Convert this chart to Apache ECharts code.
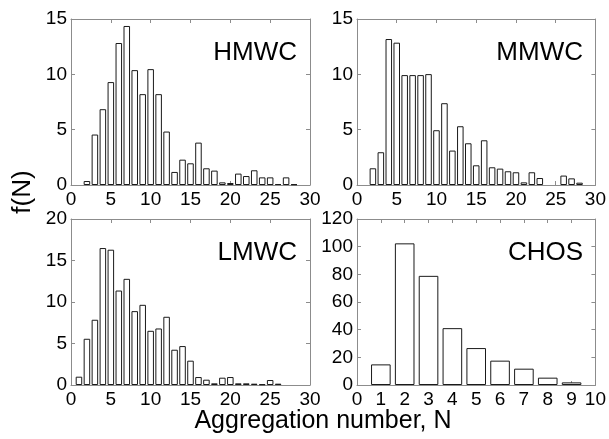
<!DOCTYPE html>
<html>
<head>
<meta charset="utf-8">
<style>
  html, body { margin: 0; padding: 0; background: #fff; }
  #chart { width: 609px; height: 439px; }
</style>
<script src="https://cdn.jsdelivr.net/npm/echarts@6/dist/echarts.min.js"></script>
</head>
<body>
<div id="chart"></div>
<script>
// Aggregation-number distributions f(N) for four systems
const hmwcN = [2, 3, 4, 5, 6, 7, 8, 9, 10, 11, 12, 13, 14, 15, 16, 17, 18, 19, 20, 21, 22, 23, 24, 25, 26, 27, 28];
const hmwcF = [0.36, 4.56, 6.85, 9.3, 12.83, 14.37, 10.38, 8.21, 10.47, 8.21, 4.83, 1.18, 2.29, 1.96, 3.83, 1.51, 1.3, 0.24, 0.18, 1.03, 0.81, 1.33, 0.69, 0.69, 0.09, 0.69, 0.06];

const mmwcN = [2, 3, 4, 5, 6, 7, 8, 9, 10, 11, 12, 13, 14, 15, 16, 17, 18, 19, 20, 21, 22, 23, 26, 27, 28];
const mmwcF = [1.51, 2.96, 13.19, 12.86, 9.93, 9.93, 9.93, 10.02, 4.95, 7.39, 3.11, 5.31, 3.77, 1.78, 4.04, 1.6, 1.48, 1.24, 1.15, 0.24, 1.15, 0.63, 0.85, 0.6, 0.21];

const lmwcN = [1, 2, 3, 4, 5, 6, 7, 8, 9, 10, 11, 12, 13, 14, 15, 16, 17, 18, 19, 20, 21, 22, 23, 24, 25, 26];
const lmwcF = [1.0, 5.57, 7.86, 16.5, 16.3, 11.38, 12.79, 8.9, 9.66, 6.53, 6.81, 8.22, 4.25, 4.69, 2.93, 0.96, 0.64, 0.2, 0.88, 0.96, 0.2, 0.2, 0.16, 0.08, 0.6, 0.16];

const chosN = [1, 2, 3, 4, 5, 6, 7, 8, 9];
const chosF = [14.9, 102.4, 78.9, 41.1, 26.7, 17.6, 11.8, 5.3, 1.9];

// Axis ranges per panel
const panelNames = ['HMWC', 'MMWC', 'LMWC', 'CHOS'];
const xMaxes = [30, 30, 30, 10];
const xSteps = [5, 5, 5, 1];
const yMaxes = [15, 15, 20, 120];
const ySteps = [5, 5, 5, 20];
const panelData = [[hmwcN, hmwcF], [mmwcN, mmwcF], [lmwcN, lmwcF], [chosN, chosF]];

const FONT = '"Liberation Sans", Arial, Helvetica, sans-serif';
const frameColor = '#8c8c8c';
const grids = [
  { left: 71, top: 19, width: 239, height: 166 },
  { left: 357, top: 19, width: 239, height: 166 },
  { left: 71, top: 219, width: 239, height: 166 },
  { left: 357, top: 219, width: 239, height: 166 }
];

const xAxes = [], yAxes = [], series = [], graphics = [];

grids.forEach((g, i) => {
  const tick = { show: true, inside: true, length: 4, lineStyle: { color: frameColor, width: 1 } };
  const line = { show: true, onZero: false, lineStyle: { color: frameColor, width: 1 } };
  // bottom axis with labels
  xAxes.push({
    type: 'value', gridIndex: i, position: 'bottom', min: 0, max: xMaxes[i], interval: xSteps[i],
    axisLine: line, axisTick: tick, splitLine: { show: false },
    axisLabel: { color: '#000', fontFamily: FONT, fontSize: 19, margin: 5 }
  });
  // mirrored top axis closes the box
  xAxes.push({
    type: 'value', gridIndex: i, position: 'top', min: 0, max: xMaxes[i], interval: xSteps[i],
    axisLine: line, axisTick: tick, splitLine: { show: false }, axisLabel: { show: false }
  });
  yAxes.push({
    type: 'value', gridIndex: i, position: 'left', min: 0, max: yMaxes[i], interval: ySteps[i],
    axisLine: line, axisTick: tick, splitLine: { show: false },
    axisLabel: { color: '#000', fontFamily: FONT, fontSize: 19, margin: 4 }
  });
  yAxes.push({
    type: 'value', gridIndex: i, position: 'right', min: 0, max: yMaxes[i], interval: ySteps[i],
    axisLine: line, axisTick: tick, splitLine: { show: false }, axisLabel: { show: false }
  });

  const [ns, fs] = panelData[i];
  series.push({
    type: 'bar', name: panelNames[i],
    xAxisIndex: i * 2, yAxisIndex: i * 2,
    data: ns.map((n, k) => [n, fs[k]]),
    barWidth: (g.width / xMaxes[i]) * 0.82,
    itemStyle: { color: '#ffffff', borderColor: '#1a1a1a', borderWidth: 1 },
    z: 1
  });

  graphics.push({
    type: 'text',
    right: 609 - (g.left + g.width) + 13,
    top: g.top + 21,
    style: { text: panelNames[i], font: '26px ' + FONT, fill: '#000' }
  });
});

graphics.push({
  type: 'text', x: 323, y: 421,
  style: { text: 'Aggregation number, N', font: '25px ' + FONT, fill: '#000', align: 'center', verticalAlign: 'middle' }
});
graphics.push({
  type: 'text', x: 23, y: 192, rotation: Math.PI / 2,
  style: { text: 'f(N)', font: '26px ' + FONT, fill: '#000', align: 'center', verticalAlign: 'middle' }
});

const chart = echarts.init(document.getElementById('chart'), null, { renderer: 'canvas' });
chart.setOption({
  animation: false,
  backgroundColor: '#ffffff',
  grid: grids.map(g => Object.assign({ containLabel: false }, g)),
  xAxis: xAxes,
  yAxis: yAxes,
  series: series,
  graphic: graphics
});
</script>
</body>
</html>
